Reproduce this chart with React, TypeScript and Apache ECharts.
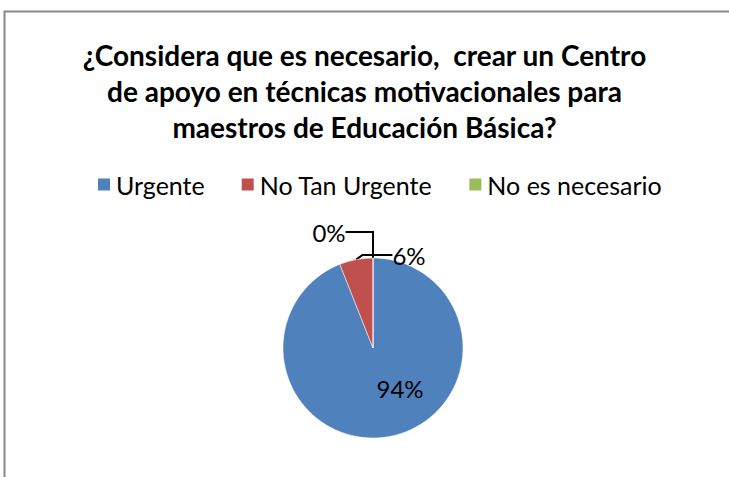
import React, { useEffect, useRef } from "react";
import * as echarts from "echarts";

const titleText = "¿Considera que es necesario,  crear un Centro\nde apoyo en técnicas motivacionales para\nmaestros de Educación Básica?";
const categories = ["Urgente", "No Tan Urgente", "No es necesario"];
const values = [94, 6, 0];
const colors = ["#4F81BD", "#C0504D", "#9BBB59"];
const labelPos = [
  [400, 388],
  [409, 255],
  [329, 232],
];

export default function App() {
  const ref = useRef<HTMLDivElement>(null);
  useEffect(() => {
    const chart = echarts.init(ref.current!, null, { renderer: "svg" });
    chart.setOption({
      animation: false,
      color: colors,
      title: {
        text: titleText,
        left: "center",
        top: 37,
        padding: [0, 0, 0, 5],
        textStyle: {
          fontFamily: "Lato",
          fontWeight: "bold",
          fontSize: 28,
          lineHeight: 36,
          color: "#000",
        },
      },
      legend: {
        data: categories,
        top: 172,
        left: 96,
        padding: 0,
        icon: "rect",
        itemWidth: 14,
        itemHeight: 14,
        itemGap: 35,
        textStyle: { fontFamily: "Lato", fontSize: 25, color: "#000" },
      },
      graphic: [
        {
          type: "rect",
          shape: { x: 4.5, y: 11.5, width: 740, height: 480 },
          style: { fill: "none", stroke: "#888", lineWidth: 2 },
          silent: true,
        },
      ],
      series: [
        {
          type: "pie",
          center: [373, 348],
          radius: 90,
          startAngle: 90,
          clockwise: true,
          label: {
            show: true,
            formatter: "{d}%",
            fontFamily: "Lato",
            fontSize: 24,
            color: "#000",
          },
          labelLine: { show: true, lineStyle: { color: "#000", width: 2 } },
          labelLayout: (p: any) => ({
            x: labelPos[p.dataIndex][0],
            y: labelPos[p.dataIndex][1],
            align: "center",
            verticalAlign: "middle",
          }),
          itemStyle: { borderColor: "#fff", borderWidth: 0.5 },
          data: categories.map((name, i) => ({
            name,
            value: values[i],
            labelLine: { show: i !== 0 },
          })),
        },
      ],
    });
    return () => chart.dispose();
  }, []);
  return (
    <div
      ref={ref}
      style={{ position: "fixed", left: 0, top: 0, width: 729, height: 477, background: "#fff" }}
    />
  );
}
